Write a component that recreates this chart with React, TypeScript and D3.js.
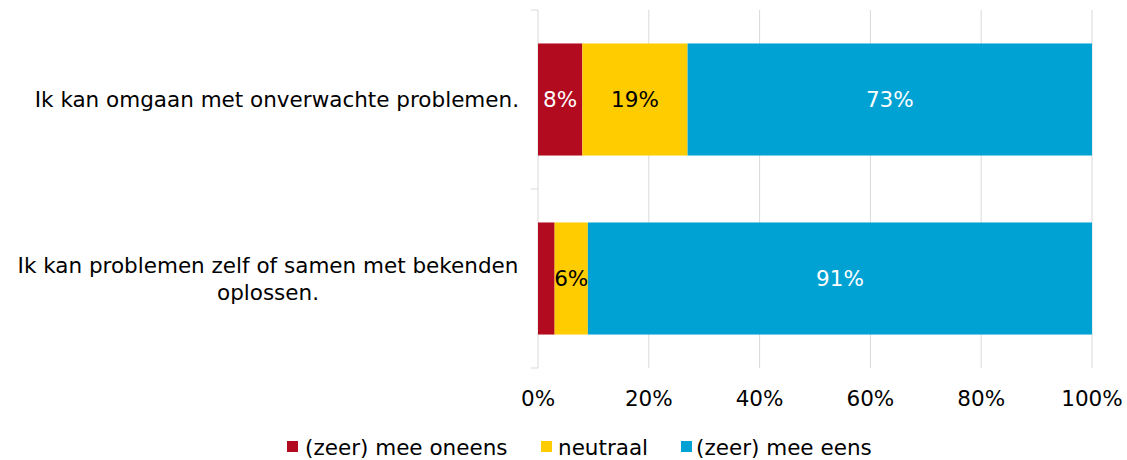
import React from "react";
import * as d3 from "d3";

const categories: string[][] = [
  ["Ik kan omgaan met onverwachte problemen."],
  ["Ik kan problemen zelf of samen met bekenden", "oplossen."],
];
const seriesNames = ["(zeer) mee oneens", "neutraal", "(zeer) mee eens"];
const seriesColors = ["#B20A1E", "#FFCC00", "#00A2D3"];
const labelColors = ["#FFFFFF", "#000000", "#FFFFFF"];
const disagree = [8, 3];
const neutral = [19, 6];
const agree = [73, 91];
const showLabel = [
  [true, true, true],
  [false, true, true],
];
const xTicks = [0, 20, 40, 60, 80, 100];

const W = 1127;
const H = 460;
const FONT = "'DejaVu Sans', Verdana, sans-serif";
const FS = 21.5;

export default function App() {
  const x = d3.scaleLinear().domain([0, 100]).range([538, 1092]);
  const y = d3
    .scaleBand<number>()
    .domain(categories.map((_, i) => i))
    .range([10, 368])
    .paddingInner(0.374)
    .paddingOuter(0.187);
  const rows = categories.map((_, i) => [disagree[i], neutral[i], agree[i]]);
  const tickYs = [10, 189, 368];

  const legendItems = [
    { x: 287, tx: 305 },
    { x: 541, tx: 558 },
    { x: 681, tx: 696 },
  ];

  return (
    <svg width={W} height={H} style={{ position: "absolute", left: 0, top: 0 }} fontFamily={FONT}>
      <rect width={W} height={H} fill="#fff" />
      {xTicks.slice(1).map((t) => (
        <line key={t} x1={x(t)} x2={x(t)} y1={10} y2={368} stroke="#D9D9D9" strokeWidth={1} />
      ))}
      <line x1={538} x2={538} y1={10} y2={368} stroke="#D9D9D9" strokeWidth={1} />
      {tickYs.map((ty) => (
        <line key={ty} x1={531} x2={538} y1={ty} y2={ty} stroke="#D9D9D9" strokeWidth={1} />
      ))}
      {rows.map((vals, i) => {
        let acc = 0;
        const y0 = y(i)!;
        const bw = y.bandwidth();
        return (
          <g key={i}>
            {vals.map((v, j) => {
              const s = acc;
              acc += v;
              const x0 = x(s);
              const x1 = x(s + v);
              return (
                <g key={j}>
                  <rect x={x0} y={y0} width={x1 - x0} height={bw} fill={seriesColors[j]} />
                  {showLabel[i][j] && (
                    <text
                      x={(x0 + x1) / 2}
                      y={y0 + bw / 2}
                      dy="0.35em"
                      textAnchor="middle"
                      fontSize={FS}
                      fill={labelColors[j]}
                    >
                      {v}%
                    </text>
                  )}
                </g>
              );
            })}
          </g>
        );
      })}
      {categories.map((lines, i) => {
        const cy = y(i)! + y.bandwidth() / 2;
        const lh = 27;
        const startY = cy - ((lines.length - 1) * lh) / 2;
        const centerX = lines.length > 1 ? 268 : undefined;
        return (
          <g key={i}>
            {lines.map((ln, k) => (
              <text
                key={k}
                x={centerX ?? 519}
                y={startY + k * lh}
                dy="0.35em"
                textAnchor={centerX ? "middle" : "end"}
                fontSize={FS}
                fill="#000"
              >
                {ln}
              </text>
            ))}
          </g>
        );
      })}
      {xTicks.map((t) => (
        <text key={t} x={x(t)} y={398} dy="0.35em" textAnchor="middle" fontSize={FS} fill="#000">
          {t}%
        </text>
      ))}
      {seriesNames.map((n, j) => (
        <g key={n}>
          <rect x={legendItems[j].x} y={441} width={11} height={11} fill={seriesColors[j]} />
          <text x={legendItems[j].tx} y={447.5} dy="0.35em" fontSize={FS} fill="#000">
            {n}
          </text>
        </g>
      ))}
    </svg>
  );
}
